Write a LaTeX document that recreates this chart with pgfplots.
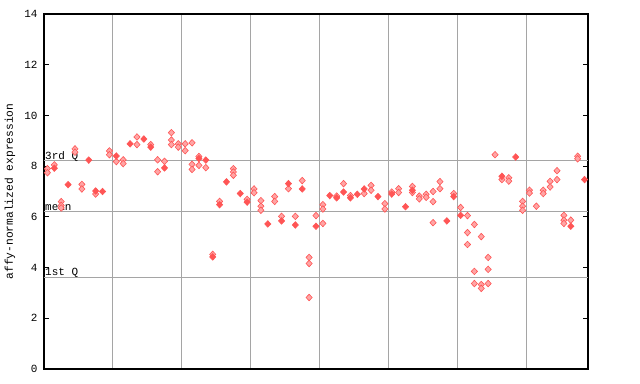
\documentclass[border=0pt]{standalone}
\usepackage{fontspec}
\setmonofont{Liberation Mono}
\usepackage{pgfplots}
\pgfplotsset{compat=1.18}
\definecolor{solidred}{RGB}{255,85,85}
\definecolor{hatchred}{RGB}{255,165,165}
\definecolor{gridgray}{RGB}{165,165,165}
\begin{document}
\begin{tikzpicture}
\useasboundingbox (0,0) rectangle (640bp,384bp);
\begin{axis}[
  at={(44bp,15bp)}, anchor=south west,
  scale only axis, width=544bp, height=355bp,
  xmin=-0.5, xmax=78.5, ymin=0, ymax=14,
  xtick={9.5,19.5,29.5,39.5,49.5,59.5,69.5}, xticklabels={},
  xmajorgrids, x tick style={draw=none},
  grid style={gridgray, line width=1bp},
  ytick={0,2,4,6,8,10,12,14}, ytick pos=both,
  tick align=inside, major tick length=5bp,
  y tick style={black, line width=1bp},
  axis line style={black, line width=1.3bp},
  /pgf/number format/assume math mode=true,
  yticklabel style={font=\ttfamily\fontsize{11}{12}\selectfont, xshift=-3bp},
  ylabel={affy-normalized expression},
  every axis y label/.style={at={([xshift=-34bp]axis description cs:0,0.5)}, rotate=90, anchor=center, font=\ttfamily\fontsize{11.3}{12}\selectfont},
  clip=false,
]
\draw[gridgray, line width=1bp] (axis cs:-0.5,8.22) -- (axis cs:78.5,8.22);
\draw[gridgray, line width=1bp] (axis cs:-0.5,6.21) -- (axis cs:78.5,6.21);
\draw[gridgray, line width=1bp] (axis cs:-0.5,3.61) -- (axis cs:78.5,3.61);
\node[anchor=base west, inner sep=0pt, font=\ttfamily\fontsize{11}{12}\selectfont] at ([xshift=1bp,yshift=1.5bp]axis cs:-0.5,8.22) {3rd Q};
\node[anchor=base west, inner sep=0pt, font=\ttfamily\fontsize{11}{12}\selectfont] at ([xshift=1bp,yshift=1.5bp]axis cs:-0.5,6.21) {mean};
\node[anchor=base west, inner sep=0pt, font=\ttfamily\fontsize{11}{12}\selectfont] at ([xshift=1bp,yshift=1.5bp]axis cs:-0.5,3.61) {1st Q};
% hatched (lighter) replicate markers
\addplot[only marks, mark=diamond*, mark size=3.3bp,
  mark options={xscale=1.25, draw=solidred, fill=hatchred, line width=0.6bp}]
coordinates {
(0,7.90)(0,7.74)(1,8.05)(2,6.60)(2,6.45)(2,6.35)(4,8.68)(4,8.55)(5,7.28)(5,7.10)
(7,6.90)(9,8.60)(9,8.45)(10,8.18)(11,8.25)(11,8.10)(13,9.15)(13,8.85)(15,8.85)
(16,8.25)(16,7.78)(17,8.19)(18,9.32)(18,9.03)(18,8.85)(19,8.88)(19,8.75)
(20,8.88)(20,8.61)(21,8.92)(21,8.07)(21,7.87)(22,8.38)(22,8.03)(23,7.94)
(24,4.52)(25,6.61)(27,7.90)(27,7.77)(27,7.64)(29,6.69)(30,7.10)(30,6.95)
(31,6.64)(31,6.42)(31,6.26)(33,6.80)(33,6.61)(34,6.02)(35,7.11)(36,6.02)
(37,7.43)(38,4.40)(38,4.16)(38,2.82)(39,6.05)(40,6.48)(40,6.31)(40,5.74)
(42,6.82)(43,7.31)(44,6.84)(46,6.92)(47,7.24)(47,7.05)(49,6.52)(49,6.31)
(50,6.98)(51,7.11)(51,6.96)(53,7.20)(53,6.96)(54,6.82)(54,6.71)(55,6.89)(55,6.77)
(56,7.00)(56,6.60)(56,5.77)(57,7.39)(57,7.11)(59,6.92)(60,6.37)
(61,6.05)(61,5.38)(61,4.91)(62,5.70)(62,3.85)(62,3.37)(63,5.22)(63,3.33)(63,3.18)
(64,4.40)(64,3.93)(64,3.37)(65,8.45)(66,7.47)(67,7.54)(67,7.41)
(69,6.61)(69,6.42)(69,6.26)(70,7.05)(70,6.94)(71,6.42)(72,7.05)(72,6.92)
(73,7.40)(73,7.18)(74,7.82)(74,7.47)(75,6.06)(75,5.87)(75,5.74)(76,5.87)
(77,8.39)(77,8.29)
};
% solid markers
\addplot[only marks, mark=diamond*, mark size=3.3bp,
  mark options={xscale=1.25, draw=solidred, fill=solidred, line width=0.6bp}]
coordinates {
(1,7.92)(3,7.27)(6,8.24)(7,7.02)(8,7.00)(10,8.40)(12,8.88)(14,9.07)(15,8.75)
(17,7.93)(22,8.30)(23,8.24)(24,4.42)(25,6.48)(26,7.38)(28,6.92)(29,6.58)
(32,5.72)(34,5.84)(35,7.31)(36,5.68)(37,7.10)(39,5.63)(41,6.84)(42,6.75)
(43,6.98)(44,6.75)(45,6.89)(46,7.10)(48,6.80)(50,6.90)(52,6.40)(53,7.05)
(58,5.84)(59,6.80)(60,6.06)(66,7.60)(68,8.36)(76,5.63)(78,7.47)
};
\end{axis}
\end{tikzpicture}
\end{document}
